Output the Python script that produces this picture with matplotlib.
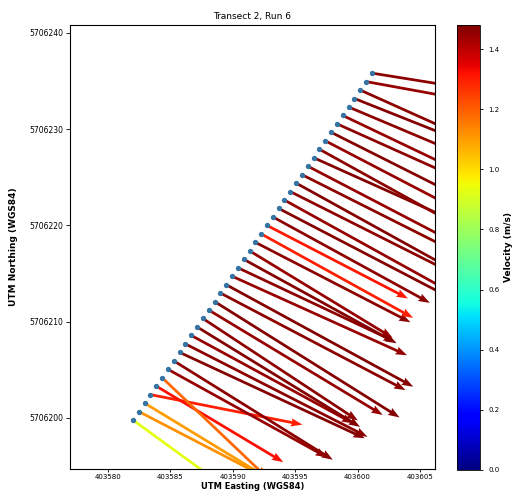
import matplotlib
matplotlib.use("Agg")
import matplotlib.pyplot as plt
import numpy as np

# Measurement positions along the transect (UTM, WGS84)
easting = [403582.00, 403582.47, 403582.93, 403583.40, 403583.87, 403584.34, 403584.80,
           403585.27, 403585.74, 403586.20, 403586.67, 403587.14, 403587.60, 403588.07,
           403588.54, 403589.01, 403589.47, 403589.94, 403590.41, 403590.87, 403591.34,
           403591.81, 403592.27, 403592.74, 403593.21, 403593.68, 403594.14, 403594.61,
           403595.08, 403595.54, 403596.01, 403596.48, 403596.94, 403597.41, 403597.88,
           403598.35, 403598.81, 403599.28, 403599.75, 403600.21, 403600.68, 403601.15]
northing = [5706199.79, 5706200.67, 5706201.55, 5706202.43, 5706203.31, 5706204.19, 5706205.06,
            5706205.94, 5706206.82, 5706207.70, 5706208.58, 5706209.46, 5706210.34, 5706211.22,
            5706212.10, 5706212.98, 5706213.85, 5706214.73, 5706215.61, 5706216.49, 5706217.37,
            5706218.25, 5706219.13, 5706220.01, 5706220.89, 5706221.77, 5706222.64, 5706223.52,
            5706224.40, 5706225.28, 5706226.16, 5706227.04, 5706227.92, 5706228.80, 5706229.68,
            5706230.56, 5706231.43, 5706232.31, 5706233.19, 5706234.07, 5706234.95, 5706235.83]

# Velocity components (m/s)
u_east = [0.749, 0.919, 0.885, 1.035, 0.865, 0.715, 1.083, 1.083, 1.260, 1.240, 1.103,
          1.110, 1.056, 1.185, 1.260, 1.260, 1.274, 1.192, 1.069, 1.042, 0.974, 1.056,
          1.035, 0.960, 1.069, 1.178, 1.158, 1.192, 1.158, 1.192, 1.178, 1.212, 1.158,
          1.178, 1.192, 1.212, 1.199, 1.226, 1.233, 1.212, 1.308, 1.315]
v_north = [-0.706, -0.618, -0.698, -0.265, -0.671, -0.883, -0.777, -0.874, -0.759, -0.821,
           -0.777, -0.883, -0.901, -0.927, -1.024, -0.857, -0.901, -0.698, -0.653, -0.742,
           -0.768, -0.706, -0.742, -0.645, -0.759, -0.795, -0.830, -0.777, -0.830, -0.777,
           -0.795, -0.706, -0.830, -0.795, -0.777, -0.706, -0.742, -0.671, -0.636, -0.706,
           -0.309, -0.274]
# Velocity magnitude used for colouring (m/s)
velocity = [0.93, 1.12, 1.10, 1.30, 1.32, 1.18, 1.45, 1.46, 1.47, 1.46, 1.45, 1.47, 1.46,
            1.45, 1.47, 1.46, 1.47, 1.45, 1.46, 1.47, 1.45, 1.46, 1.30, 1.31, 1.46, 1.47,
            1.45, 1.46, 1.47, 1.46, 1.45, 1.47, 1.46, 1.45, 1.47, 1.46, 1.45, 1.46, 1.47,
            1.46, 1.45, 1.46]

x_ticks = [403580, 403585, 403590, 403595, 403600, 403605]
y_ticks = [5706200, 5706210, 5706220, 5706230, 5706240]
cbar_ticks = [0.0, 0.2, 0.4, 0.6, 0.8, 1.0, 1.2, 1.4]

W, H = 516, 493
fig = plt.figure(figsize=(W / 100, H / 100), dpi=100)
ax = fig.add_axes([70 / W, 1 - 469 / H, 365 / W, 444 / H])

ax.scatter(easting, northing, s=8, color='#3574a3', zorder=3)
q = ax.quiver(easting, northing, u_east, v_north, velocity, cmap='jet',
              angles='xy', scale_units='xy', scale=0.085,
              width=0.0075, headwidth=3, headlength=4.2, headaxislength=3.8,
              zorder=2)
q.set_clim(0, 1.48)

ax.set_xlim(403576.96, 403606.2)
ax.set_ylim(5706194.7, 5706240.83)
ax.set_xticks(x_ticks)
ax.set_xticklabels([str(t) for t in x_ticks])
ax.set_yticks(y_ticks)
ax.set_yticklabels([str(t) for t in y_ticks])
ax.tick_params(labelsize=5.5, length=3, width=0.6, pad=2)
ax.tick_params(axis='x', labelsize=5, length=2.5, pad=1.2)
for s in ax.spines.values():
    s.set_linewidth(0.8)
ax.set_title('Transect 2, Run 6', fontsize=6.5, pad=4)
ax.set_xlabel('UTM Easting (WGS84)', fontsize=6, fontweight='bold')
ax.xaxis.set_label_coords(0.5, -0.030)
ax.set_ylabel('UTM Northing (WGS84)', fontsize=6.5, fontweight='bold', labelpad=8)

cax = fig.add_axes([457 / W, 1 - 470 / H, 23 / W, 445 / H])
cb = fig.colorbar(q, cax=cax, ticks=cbar_ticks)
cb.ax.tick_params(labelsize=5, length=2.5, width=0.6)
cb.set_label('Velocity (m/s)', fontsize=6.5, fontweight='bold', labelpad=3)
cb.outline.set_linewidth(0.6)

fig.savefig('out.png', dpi=100)
